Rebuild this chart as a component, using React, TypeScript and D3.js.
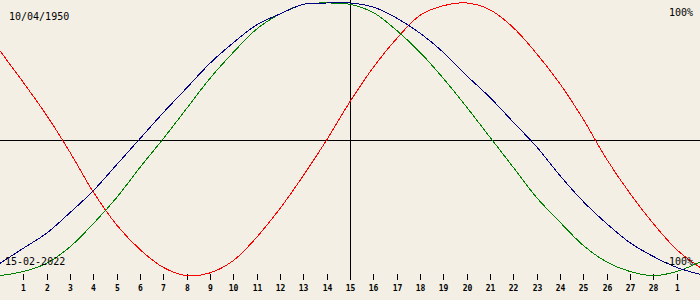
import React from "react";
import * as d3 from "d3";

const birthDate = "10/04/1950";
const currentDate = "15-02-2022";
const topLabel = "100%";
const bottomLabel = "-100%";

// day tick labels (positions 1..29)
const dayLabels = [
  "1","2","3","4","5","6","7","8","9","10","11","12","13","14","15",
  "16","17","18","19","20","21","22","23","24","25","26","27","28","1",
];

// values in percent at positions 0..30
const physical = [
  65, 42, 18, -9, -38, -62, -80, -93, -99, -97, -88, -71, -50, -26, 0, 28,
  53, 74, 91, 98, 100, 95, 82, 63, 41, 15, -14, -39, -61, -80, -93,
];
const intellectual = [
  -90, -79, -68, -53, -37, -18, 1, 20, 38, 56, 71, 84, 92, 99, 100, 100,
  97, 89, 78, 64, 47, 31, 13, -5, -26, -45, -61, -75, -85, -93, -98,
];
const emotional = [
  -99, -96, -90, -78, -61, -42, -20, 1, 23, 45, 64, 81, 92, 99, 100, 99,
  93, 80, 64, 45, 24, 2, -20, -42, -60, -77, -89, -96, -99, -96, -89,
];

const W = 700;
const H = 300;

export default function App() {
  const x = d3.scaleLinear().domain([0, 30]).range([0, W]);
  const y = d3.scaleLinear().domain([-100, 100]).range([277, 3]);
  const line = d3
    .line<number>()
    .x((_, i) => x(i))
    .y((d) => y(d))
    .curve(d3.curveCatmullRom.alpha(0.5));

  const series = [
    { data: physical, color: "#ff0000" },
    { data: emotional, color: "#008000" },
    { data: intellectual, color: "#000080" },
  ];

  const mono = "'DejaVu Sans Mono', monospace";

  return (
    <svg
      width={W}
      height={H}
      style={{ position: "absolute", left: 0, top: 0, display: "block" }}
    >
      <rect x={0} y={0} width={W} height={H} fill="#f3efe4" />
      {/* axes */}
      <line x1={0} x2={W} y1={140.5} y2={140.5} stroke="#000" strokeWidth={1} shapeRendering="crispEdges" />
      <line x1={350.5} x2={350.5} y1={0} y2={280} stroke="#000" strokeWidth={1} shapeRendering="crispEdges" />
      {dayLabels.map((lab, i) => {
        const xi = Math.round(x(i + 1)) + 0.5;
        return (
          <g key={i}>
            <line x1={xi} x2={xi} y1={274} y2={280} stroke="#000" strokeWidth={1} shapeRendering="crispEdges" />
            <text
              x={xi}
              y={291}
              textAnchor="middle"
              fontFamily={mono}
              fontSize={8}
              fontWeight="bold"
              fill="#000"
            >
              {lab}
            </text>
          </g>
        );
      })}
      {series.map((s, k) => (
        <path
          key={k}
          d={line(s.data) || ""}
          fill="none"
          stroke={s.color}
          strokeWidth={1}
          shapeRendering="crispEdges"
        />
      ))}
      <text x={9} y={20} fontFamily={mono} fontSize={10} fill="#000">
        {birthDate}
      </text>
      <text x={693} y={16} textAnchor="end" fontFamily={mono} fontSize={10} fill="#000">
        {topLabel}
      </text>
      <text x={5} y={265} fontFamily={mono} fontSize={10} fill="#000">
        {currentDate}
      </text>
      <text x={693} y={265} textAnchor="end" fontFamily={mono} fontSize={10} fill="#000">
        {bottomLabel}
      </text>
    </svg>
  );
}
